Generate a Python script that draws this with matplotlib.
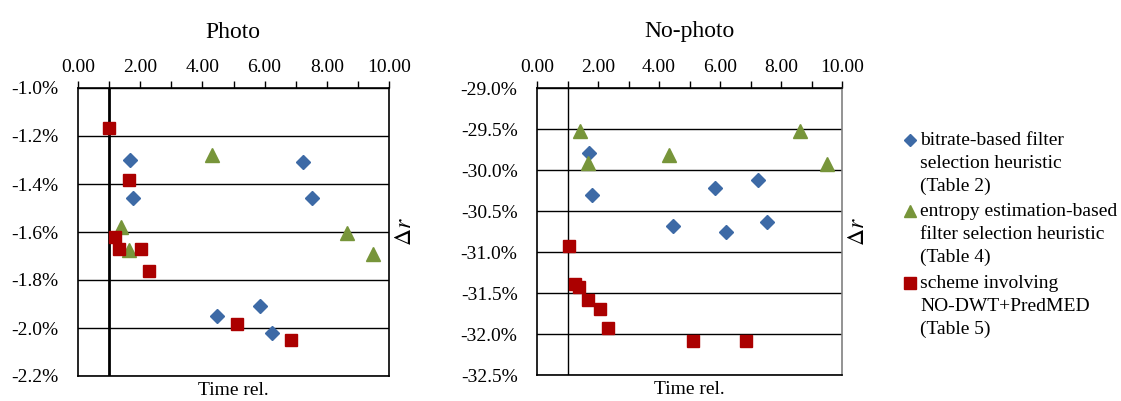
import matplotlib
matplotlib.use("Agg")
import matplotlib.pyplot as plt
from matplotlib.lines import Line2D
from matplotlib.ticker import MultipleLocator, FuncFormatter

plt.rcParams["font.family"] = ["Liberation Serif", "DejaVu Serif"]
plt.rcParams["mathtext.fontset"] = "stix"

# ── Data ───────────────────────────────────────────────────────────────
# Photo
photo_bitrate_x = [1.67, 1.77, 4.46, 5.84, 6.23, 7.22, 7.53]
photo_bitrate_y = [-1.30, -1.46, -1.95, -1.91, -2.02, -1.31, -1.46]
photo_entropy_x = [1.37, 1.64, 4.31, 8.64, 9.50]
photo_entropy_y = [-1.58, -1.675, -1.28, -1.605, -1.69]
photo_scheme_x = [1.01, 1.64, 1.19, 1.33, 2.04, 2.29, 5.10, 6.86]
photo_scheme_y = [-1.168, -1.383, -1.622, -1.67, -1.67, -1.762, -1.985, -2.05]

# No-photo
nophoto_bitrate_x = [1.72, 1.80, 5.83, 7.25, 4.45, 6.20, 7.54]
nophoto_bitrate_y = [-29.79, -30.30, -30.22, -30.12, -30.68, -30.75, -30.63]
nophoto_entropy_x = [1.40, 1.68, 4.34, 8.63, 9.50]
nophoto_entropy_y = [-29.53, -29.91, -29.82, -29.52, -29.93]
nophoto_scheme_x = [1.04, 1.23, 1.39, 1.68, 2.05, 2.34, 5.10, 6.86]
nophoto_scheme_y = [-30.93, -31.39, -31.43, -31.59, -31.69, -31.93, -32.09, -32.09]

series_labels = [
    "bitrate-based filter\nselection heuristic\n(Table 2)",
    "entropy estimation-based\nfilter selection heuristic\n(Table 4)",
    "scheme involving\nNO-DWT+PredMED\n(Table 5)",
]

BLUE = "#3d6aa6"
GREEN = "#77953a"
RED = "#ab0000"
FS = 14

W, H = 1121, 401
fig = plt.figure(figsize=(W / 100, H / 100), dpi=100)


def px_axes(x0, x1, y0, y1):
    return fig.add_axes([x0 / W, (H - y1) / H, (x1 - x0) / W, (y1 - y0) / H])


def style_axes(ax, ylim, ystep, yfmt, vline_lw, right_spine_color):
    ax.set_xlim(0, 10)
    ax.set_ylim(*ylim)
    ax.xaxis.tick_top()
    ax.xaxis.set_major_locator(MultipleLocator(2))
    ax.xaxis.set_minor_locator(MultipleLocator(1))
    ax.xaxis.set_major_formatter(FuncFormatter(lambda v, p: f"{v:.2f}"))
    ax.tick_params(axis="x", which="major", direction="out", length=5, width=1,
                   pad=4, labelsize=FS)
    ax.tick_params(axis="x", which="minor", direction="out", length=5, width=1)
    ax.yaxis.set_major_locator(MultipleLocator(ystep))
    ax.yaxis.set_major_formatter(FuncFormatter(lambda v, p: yfmt.format(v)))
    ax.tick_params(axis="y", length=0, pad=14, labelsize=FS)
    ax.grid(True, axis="y", color="black", linewidth=1)
    ax.set_axisbelow(True)
    for s in ax.spines.values():
        s.set_linewidth(1.2)
        s.set_color("black")
    ax.spines["right"].set_color(right_spine_color)
    ax.axvline(1.0, color="black", linewidth=vline_lw, zorder=2)
    ax.text(0.5, -0.022, "Time rel.", transform=ax.transAxes, ha="center",
            va="top", fontsize=FS)
    ax.text(1.02, 0.5, r"$\Delta r$", transform=ax.transAxes, rotation=90,
            ha="left", va="center", fontsize=17)


def draw_points(ax, bx, by, ex, ey, sx, sy):
    ax.plot(bx, by, linestyle="none", marker="D", markersize=7.2, color=BLUE, zorder=4)
    ax.plot(ex, ey, linestyle="none", marker="^", markersize=10, color=GREEN, zorder=4)
    ax.plot(sx, sy, linestyle="none", marker="s", markersize=8.5, color=RED, zorder=4)


# ── Photo ──────────────────────────────────────────────────────────────
ax1 = px_axes(78, 389, 88, 376)
style_axes(ax1, (-2.2, -1.0), 0.2, "{:.1f}%", 2.0, "black")
draw_points(ax1, photo_bitrate_x, photo_bitrate_y, photo_entropy_x,
            photo_entropy_y, photo_scheme_x, photo_scheme_y)
fig.text(233 / W, 1 - 32 / H, "Photo", ha="center", va="center", fontsize=17)

# ── No-photo ───────────────────────────────────────────────────────────
ax2 = px_axes(537, 842, 88, 375)
style_axes(ax2, (-32.5, -29.0), 0.5, "{:.1f}%", 1.0, "#808080")
draw_points(ax2, nophoto_bitrate_x, nophoto_bitrate_y, nophoto_entropy_x,
            nophoto_entropy_y, nophoto_scheme_x, nophoto_scheme_y)
fig.text(689 / W, 1 - 32 / H, "No-photo", ha="center", va="center", fontsize=17)

# ── Legend (manual, marker aligned with first line) ────────────────────
legend_specs = [("D", 6.5, BLUE), ("^", 9, GREEN), ("s", 8, RED)]
first_line_y = [140, 211, 283]
for (mk, ms, col), lab, yy in zip(legend_specs, series_labels, first_line_y):
    fig.add_artist(Line2D([910 / W], [1 - yy / H], marker=mk, markersize=ms,
                          color=col, linestyle="none", transform=fig.transFigure))
    fig.text(920 / W, 1 - (yy - 8) / H, lab, ha="left", va="top",
             fontsize=FS, linespacing=1.45)

fig.savefig("out.png", dpi=100)
